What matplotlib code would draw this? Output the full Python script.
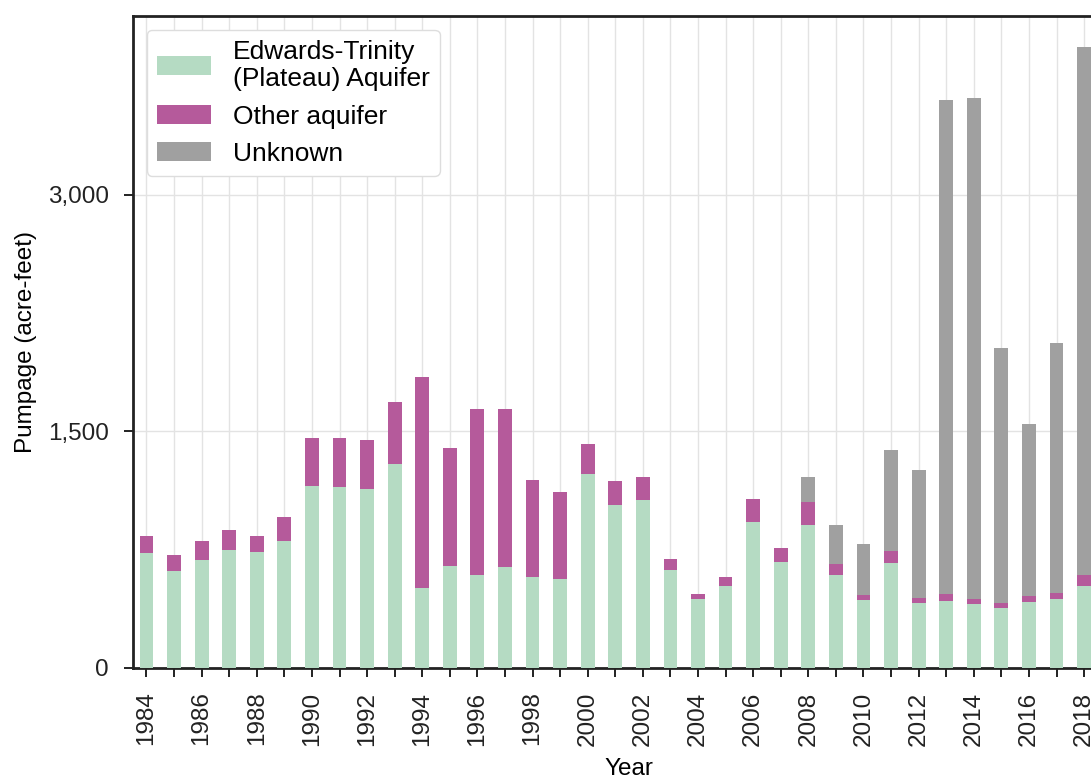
import numpy as np
import matplotlib
matplotlib.use("Agg")
from matplotlib import pyplot as plt
from matplotlib.ticker import FuncFormatter

plt.rcParams['font.family'] = ['Liberation Sans', 'DejaVu Sans']

years = list(range(1984, 2019))
# stacked parts (acre-feet)
edwards = [731, 617, 686, 746, 735, 807, 1151, 1147, 1134, 1293,
           509, 648, 591, 638, 575, 566, 1231, 1035, 1062, 621,
           437, 522, 925, 672, 908, 591, 433, 663, 414, 425,
           405, 378, 418, 437, 522]
other = [105, 101, 117, 126, 101, 150, 305, 309, 313, 393,
         1333, 746, 1050, 1003, 616, 551, 186, 148, 146, 72,
         30, 53, 144, 90, 142, 70, 30, 78, 30, 42,
         34, 34, 36, 38, 67]
unknown = [0, 0, 0, 0, 0, 0, 0, 0, 0, 0,
           0, 0, 0, 0, 0, 0, 0, 0, 0, 0,
           0, 0, 0, 0, 158, 243, 323, 639, 813, 3133,
           3175, 1616, 1094, 1585, 3344]

c_green = '#b5dbc3'
c_mag = '#b55a9b'
c_gray = '#a0a0a0'
fs = 17.5

fig = plt.figure(figsize=(10.91, 7.76), dpi=100)
ax = fig.add_axes([0.1216, 0.1392, 0.91, 0.8408])

x = np.arange(len(years))
w = 0.5
ed = np.array(edwards)
ot = np.array(other)
un = np.array(unknown)
ax.bar(x, ed, w, color=c_green, label='Edwards-Trinity\n(Plateau) Aquifer', zorder=3)
ax.bar(x, ot, w, bottom=ed, color=c_mag, label='Other aquifer', zorder=3)
ax.bar(x, un, w, bottom=ed + ot, color=c_gray, label='Unknown', zorder=3)

ax.set_xlim(-0.5, 35.5)
ax.set_ylim(0, 4135)
ax.set_yticks([0, 1500, 3000])
ax.yaxis.set_major_formatter(FuncFormatter(lambda v, p: f'{int(v):,}'))
ax.set_xticks(x)
ax.set_xticklabels([str(y) if (y % 2 == 0) else '' for y in years], rotation=90)

ax.grid(True, color='#e3e3e3', lw=1, zorder=0)
ax.set_axisbelow(True)
for s in ax.spines.values():
    s.set_linewidth(2)
    s.set_color('#222222')
ax.tick_params(axis='both', direction='out', length=6.5, width=1.4, labelsize=fs,
               colors='#222222', pad=10.5)

ax.set_ylabel('Pumpage (acre-feet)', fontsize=fs, labelpad=8)
ax.set_xlabel('Year', fontsize=fs, labelpad=9)

leg = ax.legend(loc='upper left', fontsize=19, frameon=True, handlelength=2.05,
                handleheight=0.72, borderpad=0.38, labelspacing=0.5, handletextpad=0.83,
                borderaxespad=0.53, fancybox=True)
leg.get_frame().set_edgecolor('#dddddd')
leg.get_frame().set_alpha(1)

fig.savefig('out.png', dpi=100)
